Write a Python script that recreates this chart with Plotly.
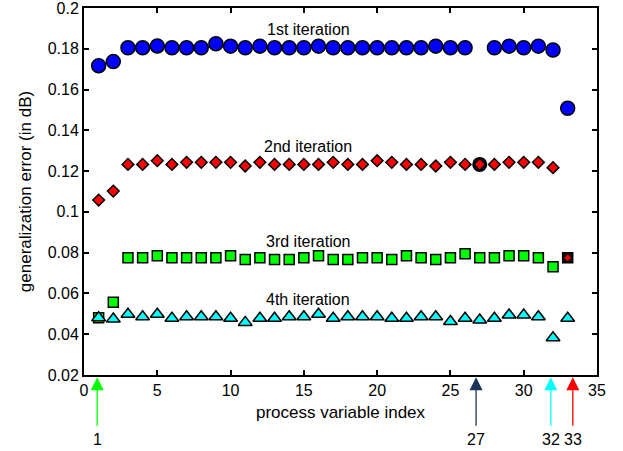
import plotly.graph_objects as go

idx = list(range(1, 34))

iter1 = [0.1717, 0.1737, 0.1805, 0.1805, 0.1814, 0.1805, 0.1805, 0.1805, 0.1825, 0.1813,
         0.1805, 0.1813, 0.1805, 0.1805, 0.1805, 0.1813, 0.1805, 0.1805, 0.1805, 0.1805,
         0.1805, 0.1805, 0.1805, 0.1813, 0.1805, 0.1805, None, 0.1805, 0.1813, 0.1805,
         0.1813, 0.1794, 0.1508]
iter2 = [0.1058, 0.1102, 0.1233, 0.1233, 0.1251, 0.1233, 0.1243, 0.1243, 0.1243, 0.1243,
         0.1225, 0.1243, 0.1233, 0.1233, 0.1233, 0.1233, 0.1243, 0.1233, 0.1233, 0.1251,
         0.1243, 0.1233, 0.1233, 0.1225, 0.1243, 0.1233, 0.1233, 0.1233, 0.1243, 0.1243,
         0.1243, 0.1217, None]
iter3 = [0.0481, 0.0557, 0.0775, 0.0775, 0.0785, 0.0775, 0.0775, 0.0775, 0.0775, 0.0785,
         0.0766, 0.0775, 0.0766, 0.0766, 0.0775, 0.0785, 0.0766, 0.0766, 0.0775, 0.0775,
         0.0766, 0.0785, 0.0775, 0.0766, 0.0775, 0.0795, 0.0775, 0.0775, 0.0785, 0.0785,
         0.0775, 0.0731, 0.0775]
iter4 = [0.0481, 0.0475, 0.0498, 0.0486, 0.0498, 0.0478, 0.0486, 0.0486, 0.0486, 0.0478,
         0.0458, 0.0478, 0.0478, 0.0486, 0.0486, 0.0498, 0.0478, 0.0486, 0.0486, 0.0486,
         0.0478, 0.0478, 0.0486, 0.0486, 0.0462, 0.0478, 0.0470, 0.0478, 0.0494, 0.0494,
         0.0486, 0.0383, 0.0478]

iter_labels = ["1st iteration", "2nd iteration", "3rd iteration", "4th iteration"]
label_x = [15.3, 15.3, 15.3, 15.3]
label_y = [0.1897, 0.1323, 0.0854, 0.0571]

removed_labels = ["1", "27", "32", "33"]
removed_x = [0.9, 26.75, 31.85, 33.35]
removed_colors = ["#00ff00", "#1b3358", "#00ffff", "#ff0000"]

x_ticks = [0, 5, 10, 15, 20, 25, 30, 35]
y_ticks = [0.02, 0.04, 0.06, 0.08, 0.1, 0.12, 0.14, 0.16, 0.18, 0.2]
y_tick_text = ["0.02", "0.04", "0.06", "0.08", "0.1", "0.12", "0.14", "0.16", "0.18", "0.2"]

FONT = "Liberation Sans, Arial, sans-serif"
ol = dict(color="black", width=1.5)

fig = go.Figure()
fig.add_trace(go.Scatter(x=idx, y=iter1, mode="markers",
                         marker=dict(symbol="circle", size=14, color="#0000ff", line=ol)))
# special marker at 27 (2nd iteration)
fig.add_trace(go.Scatter(x=[27], y=[iter2[26]], mode="markers",
                         marker=dict(symbol="circle", size=13, color="#0010c0", line=dict(color="black", width=2))))
fig.add_trace(go.Scatter(x=idx, y=iter2, mode="markers",
                         marker=dict(symbol="diamond", size=9, color="#ff0000", line=ol)))
# 3rd iteration squares (x=33 special: dark square with red dot)
fig.add_trace(go.Scatter(x=idx[:32], y=iter3[:32], mode="markers",
                         marker=dict(symbol="square", size=10, color="#00ff00", line=ol)))
fig.add_trace(go.Scatter(x=[33], y=[iter3[32]], mode="markers",
                         marker=dict(symbol="square", size=10, color="#111111", line=ol)))
fig.add_trace(go.Scatter(x=[33], y=[iter3[32]], mode="markers",
                         marker=dict(symbol="diamond", size=5, color="#ff0000", line=dict(width=0))))
fig.add_trace(go.Scatter(x=idx, y=iter4, mode="markers",
                         marker=dict(symbol="triangle-up", size=12, color="#00ffff", line=ol)))

for t, xx, yy in zip(iter_labels, label_x, label_y):
    fig.add_annotation(x=xx, y=yy, text=t, showarrow=False,
                       font=dict(family=FONT, size=16, color="black"))

for t, xx, c in zip(removed_labels, removed_x, removed_colors):
    fig.add_annotation(x=xx, y=-0.006, xref="x", yref="paper", text="",
                       showarrow=True, ax=0, ay=50, arrowhead=2, arrowsize=2,
                       arrowwidth=1.3, arrowcolor=c, standoff=0, startstandoff=0)
    fig.add_annotation(x=xx, y=-0.177, xref="x", yref="paper", text=t,
                       showarrow=False, yanchor="middle",
                       font=dict(family=FONT, size=16, color="black"))

fig.update_layout(
    width=623, height=451,
    margin=dict(l=84, r=26, t=8, b=76),
    paper_bgcolor="white", plot_bgcolor="white",
    showlegend=False,
    font=dict(family=FONT, size=16, color="black"),
)
fig.update_xaxes(range=[0, 35], tickvals=x_ticks, ticks="inside", ticklen=5, tickwidth=1.5,
                 tickcolor="black", showline=True, linecolor="black", linewidth=2,
                 mirror="ticks", showgrid=False, zeroline=False, automargin=False,
                 ticklabeloverflow="allow",
                 title=dict(text="process variable index", standoff=8,
                            font=dict(family=FONT, size=17)),
                 tickfont=dict(family=FONT, size=16))
fig.update_yaxes(range=[0.02, 0.2], tickvals=y_ticks, ticktext=y_tick_text, ticks="inside",
                 ticklen=5, tickwidth=1.5, tickcolor="black", showline=True, linecolor="black",
                 linewidth=2, mirror="ticks", showgrid=False, zeroline=False, automargin=False,
                 ticklabeloverflow="allow",
                 title=dict(text="generalization error (in dB)", standoff=12,
                            font=dict(family=FONT, size=17)),
                 tickfont=dict(family=FONT, size=16))

fig.write_html("out.html", config={"displayModeBar": False},
               post_script="document.body.style.margin='0';document.body.style.overflow='hidden';")
